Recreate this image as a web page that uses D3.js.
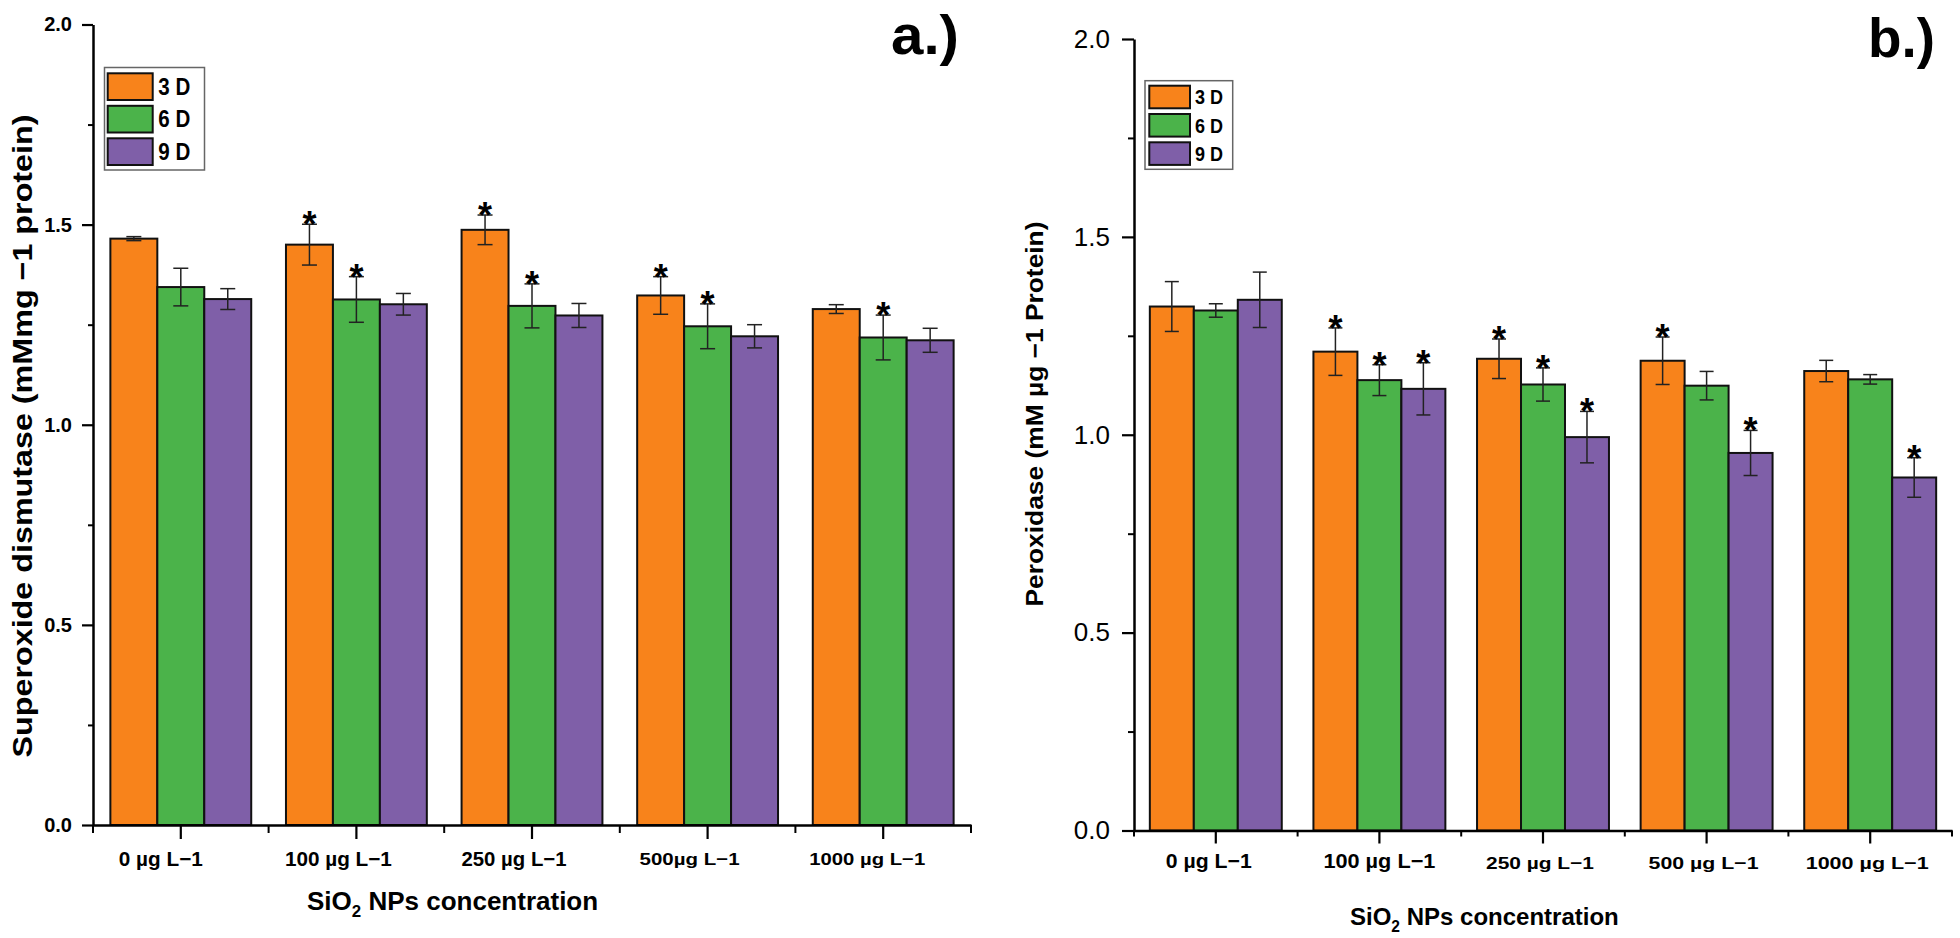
<!DOCTYPE html>
<html><head><meta charset="utf-8">
<script src="https://cdn.jsdelivr.net/npm/d3@7"></script>
<style>
body{margin:0;background:#fff}
svg{display:block}
text{font-family:"Liberation Sans",Arial,Helvetica,sans-serif;fill:#000}
</style>
</head><body>
<svg id="chart" width="1960" height="938"></svg>
<script>
// ---------- data ----------
const seriesNames = ["3 D", "6 D", "9 D"];
const categoriesA = ["0 µg L−1", "100 µg L−1", "250 µg L−1", "500µg L−1", "1000 µg L−1"];
const categoriesB = ["0 µg L−1", "100 µg L−1", "250 µg L−1", "500 µg L−1", "1000 µg L−1"];
const yTicks = [0, 0.5, 1.0, 1.5, 2.0];
const yMinorTicks = [0.25, 0.75, 1.25, 1.75];

// Superoxide dismutase (panel a)
const sod3D = [1.465, 1.450, 1.487, 1.323, 1.289];
const sod6D = [1.344, 1.313, 1.297, 1.246, 1.218];
const sod9D = [1.314, 1.301, 1.273, 1.221, 1.211];
const sodErr3D = [0.005, 0.051, 0.037, 0.047, 0.011];
const sodErr6D = [0.047, 0.057, 0.055, 0.056, 0.056];
const sodErr9D = [0.026, 0.027, 0.030, 0.029, 0.030];
const sodSig3D = [false, true, true, true, false];
const sodSig6D = [false, true, true, true, true];
const sodSig9D = [false, false, false, false, false];

// Peroxidase (panel b)
const pod3D = [1.324, 1.210, 1.192, 1.187, 1.161];
const pod6D = [1.314, 1.138, 1.127, 1.124, 1.140];
const pod9D = [1.341, 1.116, 0.994, 0.954, 0.892];
const podErr3D = [0.063, 0.060, 0.050, 0.060, 0.027];
const podErr6D = [0.017, 0.039, 0.042, 0.036, 0.012];
const podErr9D = [0.070, 0.066, 0.065, 0.057, 0.050];
const podSig3D = [false, true, true, true, false];
const podSig6D = [false, true, true, false, false];
const podSig9D = [false, true, true, true, true];

const colors = ["#F8831B", "#4BB34A", "#7F5FA8"];

const svg = d3.select("#chart");

function buildRows(cats, vals, errs, sigs) {
  const rows = [];
  cats.forEach((c, i) => {
    seriesNames.forEach((s, j) => {
      rows.push({cat: c, ser: s, si: j, v: vals[j][i], e: errs[j][i], sig: sigs[j][i]});
    });
  });
  return rows;
}

function drawPanel(cfg) {
  const g = svg.append("g");
  const x = d3.scaleBand().domain(cfg.cats).range([cfg.x0, cfg.x1]).paddingInner(0).paddingOuter(0);
  const xs = d3.scaleBand().domain(seriesNames).range([0, x.bandwidth()]).paddingInner(0).paddingOuter(cfg.subPad);
  const y = d3.scaleLinear().domain([0, 2]).range([cfg.yBase, cfg.yTop]);
  const rows = buildRows(cfg.cats, cfg.vals, cfg.errs, cfg.sigs);

  // bars
  g.append("g").selectAll("rect").data(rows).join("rect")
    .attr("x", d => x(d.cat) + xs(d.ser))
    .attr("y", d => y(d.v))
    .attr("width", xs.bandwidth())
    .attr("height", d => y(0) - y(d.v))
    .attr("fill", d => colors[d.si])
    .attr("stroke", "#111")
    .attr("stroke-width", 2);

  // error bars
  const eb = g.append("g").attr("stroke", "#222").attr("stroke-width", 1.5);
  const cx = d => x(d.cat) + xs(d.ser) + xs.bandwidth() / 2;
  eb.selectAll("line.v").data(rows).join("line").attr("class", "v")
    .attr("x1", cx).attr("x2", cx)
    .attr("y1", d => y(d.v + d.e)).attr("y2", d => y(d.v - d.e));
  eb.selectAll("line.t").data(rows).join("line").attr("class", "t")
    .attr("x1", d => cx(d) - cfg.cap / 2).attr("x2", d => cx(d) + cfg.cap / 2)
    .attr("y1", d => y(d.v + d.e)).attr("y2", d => y(d.v + d.e));
  eb.selectAll("line.b").data(rows).join("line").attr("class", "b")
    .attr("x1", d => cx(d) - cfg.cap / 2).attr("x2", d => cx(d) + cfg.cap / 2)
    .attr("y1", d => y(d.v - d.e)).attr("y2", d => y(d.v - d.e));

  // significance stars
  g.append("g").selectAll("text").data(rows.filter(d => d.sig)).join("text")
    .attr("x", cx)
    .attr("y", d => y(d.v + d.e) + 13)
    .attr("text-anchor", "middle")
    .attr("font-size", 36).attr("font-weight", "bold")
    .text("*");

  // y axis
  const yAx = g.append("g").attr("transform", `translate(${cfg.x0},0)`)
    .call(d3.axisLeft(y).tickValues(yTicks).tickSize(cfg.yTick).tickSizeOuter(0)
      .tickPadding(cfg.yPad).tickFormat(d3.format(".1f")));
  yAx.select(".domain").attr("stroke", "#000").attr("stroke-width", 2.5);
  yAx.selectAll(".tick line").attr("stroke", "#000").attr("stroke-width", 2.2);
  yAx.selectAll(".tick text").attr("font-family", "'Liberation Sans',Arial,sans-serif")
    .attr("font-size", cfg.yFont).attr("font-weight", cfg.yWeight).attr("fill", "#000");
  const yMin = g.append("g").attr("transform", `translate(${cfg.x0},0)`)
    .call(d3.axisLeft(y).tickValues(yMinorTicks).tickSize(cfg.yMinor).tickSizeOuter(0).tickFormat(""));
  yMin.select(".domain").remove();
  yMin.selectAll(".tick line").attr("stroke", "#000").attr("stroke-width", 2);

  // x axis
  const xAx = g.append("g").attr("transform", `translate(0,${cfg.yBase})`)
    .call(d3.axisBottom(x).tickSize(cfg.xTick).tickSizeOuter(0).tickFormat(""));
  xAx.select(".domain").attr("stroke", "#000").attr("stroke-width", 2.5);
  xAx.selectAll(".tick line").attr("stroke", "#000").attr("stroke-width", 2.2);
  const bounds = cfg.cats.map(c => x(c)).concat([x.range()[1]]);
  g.append("g").selectAll("line").data(bounds).join("line")
    .attr("x1", d => d).attr("x2", d => d)
    .attr("y1", cfg.yBase).attr("y2", cfg.yBase + cfg.xMinor)
    .attr("stroke", "#000").attr("stroke-width", 2);

  // category labels
  g.append("g").selectAll("text").data(cfg.cats).join("text")
    .attr("x", (d, i) => x(d) + x.bandwidth() / 2 + cfg.labDx[i])
    .attr("y", (d, i) => cfg.labY[i])
    .attr("text-anchor", "middle")
    .attr("font-family", (d, i) => cfg.labWide[i] ? "'DejaVu Sans',Verdana,sans-serif" : "'Liberation Sans',Arial,sans-serif")
    .attr("font-size", (d, i) => cfg.labWide[i] ? 17 : 21)
    .attr("font-weight", "bold")
    .attr("textLength", (d, i) => cfg.labLen[i])
    .attr("lengthAdjust", "spacingAndGlyphs")
    .text(d => d);

  // x title
  const xt = g.append("text")
    .attr("x", cfg.xtX).attr("y", cfg.xtY)
    .attr("font-size", cfg.xtFont).attr("font-weight", "bold");
  xt.append("tspan").text("SiO");
  xt.append("tspan").text("2").attr("font-size", cfg.xtFont * 0.65).attr("dy", cfg.xtFont * 0.28);
  xt.append("tspan").text(" NPs concentration").attr("dy", -cfg.xtFont * 0.28);

  // y title
  g.append("text")
    .attr("transform", `translate(${cfg.ytX},${cfg.ytY}) rotate(-90)`)
    .attr("text-anchor", "middle")
    .attr("font-size", cfg.ytFont).attr("font-weight", "bold")
    .attr("textLength", cfg.ytLen).attr("lengthAdjust", "spacingAndGlyphs")
    .text(cfg.ytText);

  // legend
  const L = cfg.leg;
  const lg = g.append("g");
  lg.append("rect").attr("x", L.x).attr("y", L.y).attr("width", L.w).attr("height", L.h)
    .attr("fill", "#fff").attr("stroke", "#666").attr("stroke-width", 1.5);
  lg.selectAll("rect.sw").data(seriesNames).join("rect").attr("class", "sw")
    .attr("x", L.sx).attr("y", (d, i) => L.sy + i * L.step)
    .attr("width", L.sw).attr("height", L.sh)
    .attr("fill", (d, i) => colors[i]).attr("stroke", "#111").attr("stroke-width", 2);
  lg.selectAll("text").data(seriesNames).join("text")
    .attr("x", L.tx).attr("y", (d, i) => L.sy + i * L.step + L.sh / 2 + L.tf * 0.36)
    .attr("font-size", L.tf).attr("font-weight", "bold")
    .attr("textLength", L.tl).attr("lengthAdjust", "spacingAndGlyphs")
    .text(d => d);

  // panel letter
  g.append("text").attr("x", cfg.letX).attr("y", cfg.letY)
    .attr("font-size", 56).attr("font-weight", "bold")
    .attr("textLength", cfg.letLen).attr("lengthAdjust", "spacingAndGlyphs")
    .text(cfg.letter);
}

drawPanel({
  cats: categoriesA,
  vals: [sod3D, sod6D, sod9D], errs: [sodErr3D, sodErr6D, sodErr9D], sigs: [sodSig3D, sodSig6D, sodSig9D],
  x0: 93, x1: 971, yBase: 825, yTop: 24.5, subPad: 0.37, cap: 15,
  yTick: 11, yPad: 10, yMinor: 5, yFont: 20, yWeight: "bold",
  xTick: 14, xMinor: 8,
  labDx: [-20, -18, -18, -18, -16], labY: [866, 866, 866, 865, 865],
  labWide: [false, false, false, true, true], labLen: [84, 107, 105, 100, 116],
  xtX: 307, xtY: 910, xtFont: 26,
  ytX: 32, ytY: 436, ytFont: 28, ytLen: 643, ytText: "Superoxide dismutase (mMmg −1 protein)",
  leg: {x: 104.5, y: 67.5, w: 100, h: 102.5, sx: 107.7, sy: 73.3, sw: 45, sh: 26.7, step: 32.5, tx: 158.3, tf: 23, tl: 32},
  letter: "a.)", letX: 891, letY: 54, letLen: 68
});

drawPanel({
  cats: categoriesB,
  vals: [pod3D, pod6D, pod9D], errs: [podErr3D, podErr6D, podErr9D], sigs: [podSig3D, podSig6D, podSig9D],
  x0: 1134, x1: 1952, yBase: 830.5, yTop: 39, subPad: 0.36, cap: 14,
  yTick: 12, yPad: 12, yMinor: 6, yFont: 26, yWeight: "normal",
  xTick: 13, xMinor: 6,
  labDx: [-7, 0, -3, -3, -3], labY: [868, 868, 869, 869, 869],
  labWide: [false, false, true, true, true], labLen: [86, 112, 108, 110, 123],
  xtX: 1350, xtY: 925, xtFont: 24,
  ytX: 1043, ytY: 414, ytFont: 24, ytLen: 385, ytText: "Peroxidase (mM µg −1 Protein)",
  leg: {x: 1145, y: 80.7, w: 87.7, h: 88.6, sx: 1149.3, sy: 85.7, sw: 40.7, sh: 22.6, step: 28.3, tx: 1195, tf: 20, tl: 28},
  letter: "b.)", letX: 1868, letY: 57, letLen: 67
});
</script>
</body></html>
